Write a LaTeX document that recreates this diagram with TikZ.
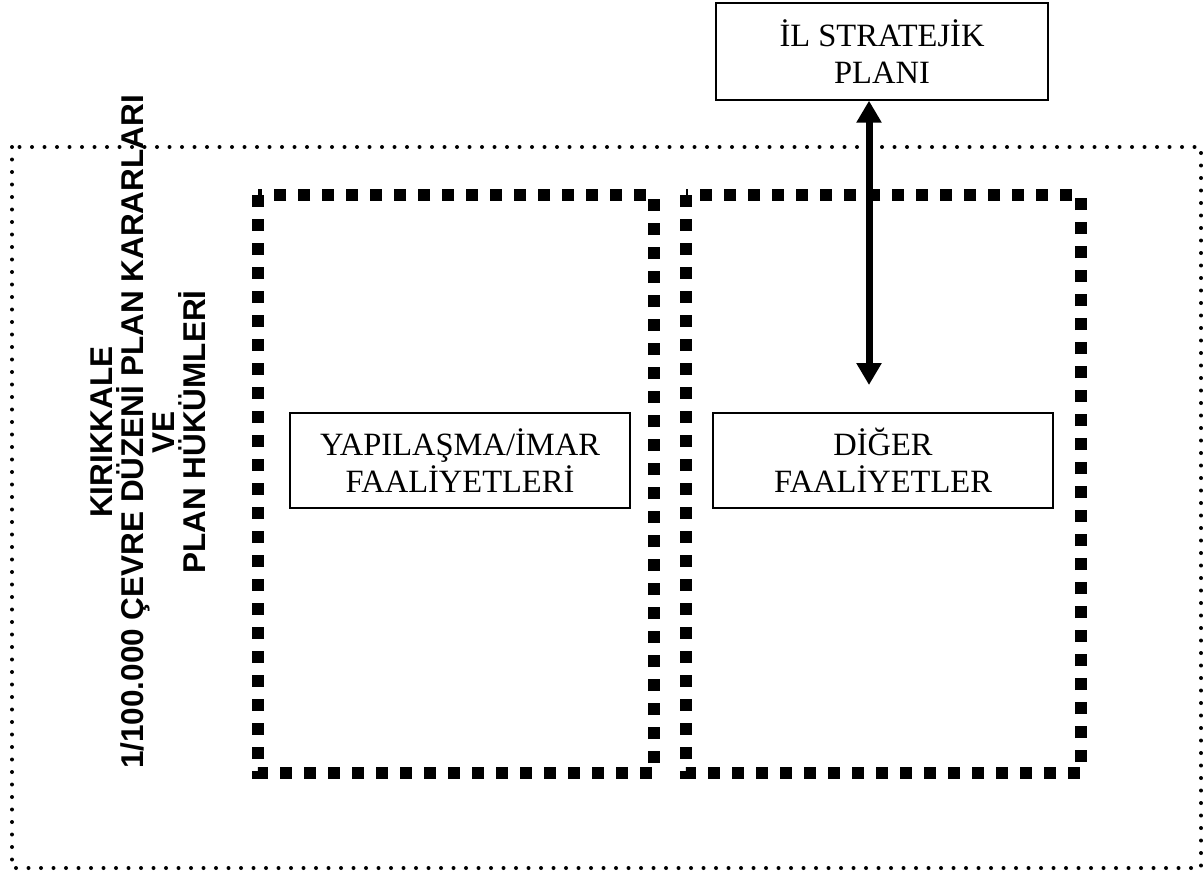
\documentclass[tikz,border=0pt]{standalone}
\usepackage{fontspec}
\setmainfont{Liberation Serif}
\setsansfont{Liberation Sans}
\usetikzlibrary{arrows.meta}
\newcommand{\noktakalin}{2pt}
\newcommand{\karekalin}{6pt}
\newcommand{\okucu}{Triangle[width=12pt,length=11pt]}

\begin{document}
\begin{tikzpicture}[x=0.5pt,y=-0.5pt,
  kutu/.style={draw,line width=0.7pt,inner sep=0pt,align=center,font=\fontsize{16.25}{18.5}\selectfont},
  kare/.style={line width=\karekalin,dash pattern=on 6pt off 6pt},
  nokta/.style={line width=\noktakalin,line cap=round,dash pattern=on 0pt off 6.25pt},
  okcift/.style={line width=3.5pt,{\okucu}-{\okucu}}]
\useasboundingbox (0,0) rectangle (1203,873);
%dis cerceve
\draw[nokta] (12,147) rectangle (1201,868);
%ic cerceveler
\draw[kare] (258,195) rectangle (654,773);
\draw[kare] (686,195) rectangle (1081,773);
%kutular
\node[kutu,minimum width=166pt,minimum height=48.5pt] (ilplan) at (882,51.5) {İL STRATEJİK\\PLANI};
\node[kutu,minimum width=170pt,minimum height=47.5pt] (imar) at (460,460.5) {YAPILAŞMA/İMAR\\FAALİYETLERİ};
\node[kutu,minimum width=170pt,minimum height=47.5pt] (diger) at (883,460.5) {DİĞER\\FAALİYETLER};
\node[rotate=90,align=center,font=\sffamily\bfseries\fontsize{15.75}{15.5}\selectfont] (karar) at (148,432)
  {KIRIKKALE\\1/100.000 ÇEVRE DÜZENİ PLAN KARARLARI\\VE\\PLAN HÜKÜMLERİ};
%ok
\coordinate (okalt) at (869,385);
\draw[okcift] (ilplan.south -| okalt) -- (okalt);
\end{tikzpicture}
\end{document}
